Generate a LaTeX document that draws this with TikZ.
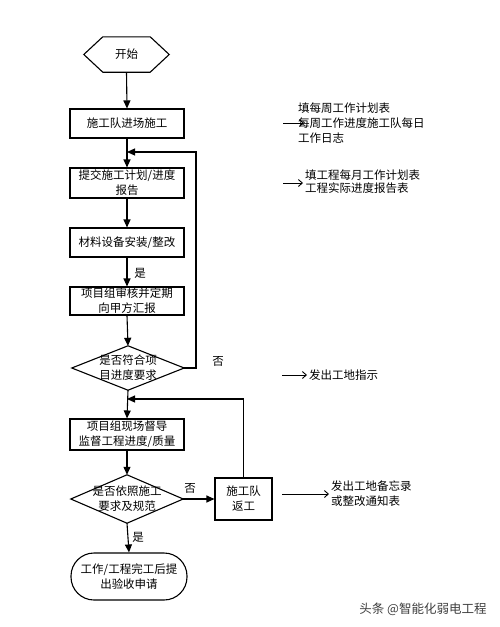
\documentclass[tikz,border=0pt]{standalone}
\usepackage{fontspec}
\setmainfont{Noto Sans CJK SC}
\usetikzlibrary{arrows.meta}
\begin{document}
\begin{tikzpicture}[x=1pt,y=-1pt,
  font=\fontsize{11.5}{15}\selectfont,
  box/.style={draw, line width=1.1pt, minimum width=114pt, minimum height=29pt, align=center, inner sep=0pt},
  ghost/.style={draw=none, inner sep=0pt, align=center},
  flow/.style={line width=1.1pt, -{Triangle[length=8pt,width=7pt]}},
  plain/.style={line width=1.1pt},
  notearrow/.style={line width=0.9pt, -{Straight Barb[length=4pt,width=7pt]}},
  note/.style={anchor=west, align=left, inner sep=0pt},
  lbl/.style={inner sep=0pt}]
\useasboundingbox[fill=white] (0,0) rectangle (500,627);

% start hexagon
\node[ghost, minimum width=85pt, minimum height=35pt] (start) at (126.5,54.5) {开始};
\draw[plain] (start.west) -- ([xshift=19pt]start.north west) -- ([xshift=-19pt]start.north east)
  -- (start.east) -- ([xshift=-19pt]start.south east) -- ([xshift=19pt]start.south west) -- cycle;

\node[box] (b1) at (127,123.5) {施工队进场施工};
\node[box, minimum height=30pt] (b2) at (127,183) {提交施工计划/进度\\报告};
\node[box] (b3) at (127,242.5) {材料设备安装/整改};
\node[box, minimum height=28pt] (b4) at (127,301) {项目组审核并定期\\向甲方汇报};

\node[ghost, minimum width=112pt, minimum height=44pt] (d1) at (128,368) {是否符合项\\目进度要求};
\draw[plain] (d1.north) -- (d1.east) -- (d1.south) -- (d1.west) -- cycle;

\node[box, minimum height=31pt] (b5) at (127,434.5) {项目组现场督导\\监督工程进度/质量};

\node[ghost, minimum width=112pt, minimum height=48pt] (d2) at (127,499) {是否依照施工\\要求及规范};
\draw[plain] (d2.north) -- (d2.east) -- (d2.south) -- (d2.west) -- cycle;

\node[box, minimum width=57pt, minimum height=42pt] (b6) at (243.5,499) {施工队\\返工};

\node[box, minimum width=116pt, minimum height=47pt, rounded corners=23pt] (end) at (129,576.5) {工作/工程完工后提\\出验收申请};

% main flow
\draw[flow] (start.south) -- (b1.north);
\draw[flow] (b1.south) -- (b2.north);
\draw[flow] (b2.south) -- (b3.north);
\draw[flow] (b3.south) -- (b4.north);
\draw[flow] (b4.south) -- (d1.north);
\draw[flow] (d1.south) -- (b5.north);
\draw[flow] (b5.south) -- (d2.north);
\draw[flow] (d2.east) -- (b6.west);
\draw[flow] (d2.south) -- (end.north);

% feedback loops
\coordinate (y152) at (0,152);
\coordinate (y399) at (0,399);
\coordinate (x196) at (196,0);
\coordinate (j1) at (b1.south |- y152);
\coordinate (j2) at (b5.north |- y399);
\draw[flow] (d1.east) -- (x196 |- d1.east) -- (x196 |- y152) -- (j1);
\draw[flow] (b6.north) -- (b6.north |- y399) -- (j2);

% labels
\node[lbl] (yes1) at (140,273) {是};
\node[lbl] (no1) at (218,361) {否};
\node[lbl] (no2) at (190,488) {否};
\node[lbl] (yes2) at (138,537) {是};

% notes
\node[note] (n1) at (298,123) {填每周工作计划表\\每周工作进度施工队每日\\工作日志};
\coordinate (a1) at (283,123);
\draw[notearrow] (a1) -- ([xshift=6pt]n1.west);

\node[note, font=\fontsize{11.5}{13}\selectfont] (n2) at (305,182) {填工程每月工作计划表\\工程实际进度报告表};
\coordinate (a2) at (283,183);
\draw[notearrow] (a2) -- (303,183);

\node[note] (n3) at (309,375) {发出工地指示};
\coordinate (a3) at (282,375);
\draw[notearrow] (a3) -- ([xshift=-2pt]n3.west);

\node[note] (n4) at (331,494) {发出工地备忘录\\或整改通知表};
\coordinate (a4) at (282,494);
\draw[notearrow] (a4) -- ([xshift=-2pt]n4.west);

% watermark
\node[lbl, font=\fontsize{12.5}{14}\selectfont, text=black!75] (wm) at (423,609) {头条 @智能化弱电工程};
\end{tikzpicture}
\end{document}
